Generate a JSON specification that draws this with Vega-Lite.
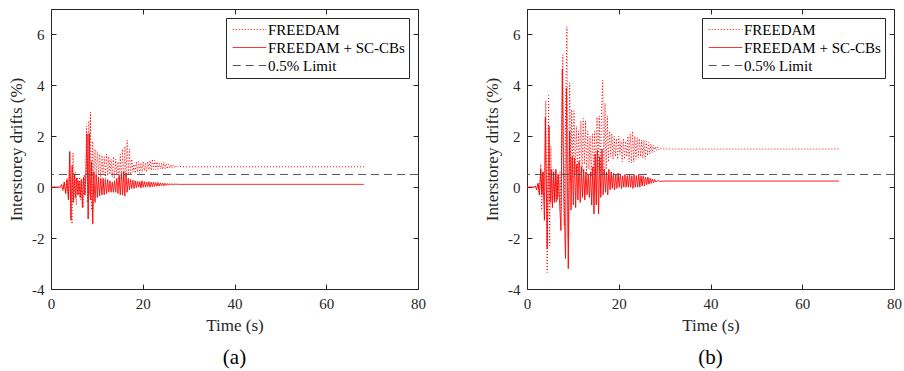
{
 "$schema": "https://vega.github.io/schema/vega-lite/v6.json",
 "padding": {"left": 7, "top": 8, "right": 0, "bottom": 5},
 "spacing": 57,
 "config": {
  "font": "Liberation Serif",
  "view": {"stroke": "#262626", "strokeWidth": 1},
  "axis": {"grid": false, "domain": false, "tickSize": -5, "labelPadding": 12, "tickColor": "#262626", "labelColor": "#262626", "labelFont": "Liberation Serif", "labelFontSize": 15, "titleFont": "Liberation Serif", "titleFontSize": 17, "titleFontWeight": "normal", "titleColor": "#262626", "labelFlush": false},
  "style": {"guide-label": {"font": "Liberation Serif"}, "guide-title": {"font": "Liberation Serif"}, "group-title": {"font": "Liberation Serif"}},
  "title": {"font": "Liberation Serif", "fontWeight": "normal", "fontSize": 21, "color": "#000000"}
 },
 "datasets": {
  "aF": [{"t":0,"v":0},{"t":2,"v":0},{"t":2.3,"v":0.1},{"t":2.6,"v":-0.15},{"t":2.9,"v":0.2},{"t":3.2,"v":-0.2},{"t":3.5,"v":0.35},{"t":3.8,"v":-0.4},{"t":4.1,"v":0.6},{"t":4.4,"v":-1.0},{"t":4.6,"v":-1.45},{"t":4.8,"v":1.35},{"t":5.0,"v":-0.5},{"t":5.25,"v":0.6},{"t":5.5,"v":-0.7},{"t":5.75,"v":0.4},{"t":6.0,"v":-0.3},{"t":6.25,"v":0.4},{"t":6.5,"v":-0.5},{"t":6.75,"v":0.3},{"t":7.0,"v":-0.8},{"t":7.25,"v":0.5},{"t":7.5,"v":-0.3},{"t":7.75,"v":2.4},{"t":8.0,"v":-0.6},{"t":8.25,"v":2.6},{"t":8.45,"v":-0.3},{"t":8.6,"v":2.95},{"t":8.85,"v":-0.9},{"t":9.1,"v":1.8},{"t":9.35,"v":0.3},{"t":9.6,"v":1.5},{"t":9.85,"v":0.4},{"t":10.1,"v":1.4},{"t":10.35,"v":0.5},{"t":10.6,"v":1.3},{"t":10.85,"v":0.4},{"t":11.1,"v":1.25},{"t":11.35,"v":0.5},{"t":11.6,"v":1.2},{"t":11.85,"v":0.35},{"t":12.1,"v":1.3},{"t":12.35,"v":0.45},{"t":12.6,"v":1.2},{"t":12.85,"v":0.5},{"t":13.1,"v":1.1},{"t":13.35,"v":0.4},{"t":13.6,"v":1.2},{"t":13.85,"v":0.35},{"t":14.1,"v":1.1},{"t":14.35,"v":0.5},{"t":14.6,"v":1.0},{"t":14.85,"v":0.3},{"t":15.1,"v":1.3},{"t":15.35,"v":0.3},{"t":15.6,"v":1.5},{"t":15.85,"v":0.2},{"t":16.1,"v":1.6},{"t":16.35,"v":0.4},{"t":16.6,"v":1.85},{"t":16.85,"v":0.5},{"t":17.1,"v":1.5},{"t":17.35,"v":0.5},{"t":17.6,"v":1.1},{"t":17.85,"v":0.6},{"t":18.1,"v":0.9},{"t":18.35,"v":0.55},{"t":18.6,"v":1.0},{"t":18.85,"v":0.6},{"t":19.1,"v":1.0},{"t":19.35,"v":0.55},{"t":19.6,"v":0.95},{"t":19.85,"v":0.6},{"t":20.1,"v":1.0},{"t":20.35,"v":0.65},{"t":20.6,"v":0.95},{"t":20.85,"v":0.6},{"t":21.1,"v":1.0},{"t":21.35,"v":0.7},{"t":21.6,"v":1.05},{"t":21.85,"v":0.65},{"t":22.1,"v":1.1},{"t":22.35,"v":0.7},{"t":22.6,"v":1.05},{"t":22.85,"v":0.7},{"t":23.1,"v":1.0},{"t":23.35,"v":0.7},{"t":23.6,"v":0.95},{"t":23.85,"v":0.72},{"t":24.1,"v":0.95},{"t":24.35,"v":0.7},{"t":24.6,"v":0.98},{"t":24.85,"v":0.72},{"t":25.1,"v":0.92},{"t":25.35,"v":0.72},{"t":25.6,"v":0.9},{"t":25.85,"v":0.74},{"t":26.1,"v":0.88},{"t":26.35,"v":0.75},{"t":26.6,"v":0.86},{"t":26.85,"v":0.77},{"t":27.1,"v":0.85},{"t":27.35,"v":0.78},{"t":27.6,"v":0.83},{"t":27.85,"v":0.79},{"t":28.1,"v":0.82},{"t":28.5,"v":0.8},{"t":29.5,"v":0.8},{"t":68.2,"v":0.8}],
  "aS": [{"t":0,"v":0},{"t":2,"v":0},{"t":2.3,"v":0.1},{"t":2.6,"v":-0.1},{"t":2.9,"v":0.2},{"t":3.2,"v":-0.25},{"t":3.5,"v":0.3},{"t":3.8,"v":-0.5},{"t":4.1,"v":1.4},{"t":4.35,"v":-1.3},{"t":4.6,"v":0.85},{"t":4.85,"v":-0.6},{"t":5.1,"v":0.5},{"t":5.35,"v":-0.4},{"t":5.6,"v":0.35},{"t":5.85,"v":-0.3},{"t":6.1,"v":0.25},{"t":6.35,"v":-0.4},{"t":6.6,"v":0.3},{"t":6.85,"v":-0.8},{"t":7.1,"v":0.4},{"t":7.35,"v":-0.3},{"t":7.6,"v":0.5},{"t":7.85,"v":2.1},{"t":8.1,"v":-1.25},{"t":8.35,"v":2.1},{"t":8.6,"v":-0.5},{"t":8.85,"v":1.0},{"t":9.1,"v":-1.45},{"t":9.35,"v":0.6},{"t":9.6,"v":-0.6},{"t":9.85,"v":0.5},{"t":10.1,"v":-0.4},{"t":10.35,"v":0.4},{"t":10.6,"v":-0.35},{"t":10.85,"v":0.35},{"t":11.1,"v":-0.3},{"t":11.35,"v":0.35},{"t":11.6,"v":-0.3},{"t":11.85,"v":0.3},{"t":12.1,"v":-0.25},{"t":12.35,"v":0.3},{"t":12.6,"v":-0.2},{"t":12.85,"v":0.25},{"t":13.1,"v":-0.2},{"t":13.35,"v":0.2},{"t":13.6,"v":-0.2},{"t":13.85,"v":0.25},{"t":14.1,"v":-0.2},{"t":14.35,"v":0.35},{"t":14.6,"v":-0.25},{"t":14.85,"v":0.45},{"t":15.1,"v":-0.3},{"t":15.35,"v":0.55},{"t":15.6,"v":-0.3},{"t":15.85,"v":0.6},{"t":16.1,"v":-0.35},{"t":16.35,"v":0.55},{"t":16.6,"v":-0.2},{"t":16.85,"v":0.35},{"t":17.1,"v":-0.1},{"t":17.35,"v":0.3},{"t":17.6,"v":-0.05},{"t":17.85,"v":0.28},{"t":18.1,"v":-0.05},{"t":18.35,"v":0.25},{"t":18.6,"v":-0.02},{"t":18.85,"v":0.24},{"t":19.1,"v":0.0},{"t":19.35,"v":0.22},{"t":19.6,"v":-0.03},{"t":19.85,"v":0.25},{"t":20.1,"v":0.0},{"t":20.35,"v":0.22},{"t":20.6,"v":0.0},{"t":20.85,"v":0.2},{"t":21.1,"v":0.02},{"t":21.35,"v":0.22},{"t":21.6,"v":0.0},{"t":21.85,"v":0.2},{"t":22.1,"v":0.02},{"t":22.35,"v":0.2},{"t":22.6,"v":0.03},{"t":22.85,"v":0.18},{"t":23.1,"v":0.04},{"t":23.35,"v":0.18},{"t":23.6,"v":0.05},{"t":23.85,"v":0.17},{"t":24.1,"v":0.06},{"t":24.35,"v":0.16},{"t":24.6,"v":0.06},{"t":24.85,"v":0.15},{"t":25.1,"v":0.07},{"t":25.35,"v":0.14},{"t":25.6,"v":0.08},{"t":25.85,"v":0.14},{"t":26.1,"v":0.09},{"t":26.35,"v":0.13},{"t":26.6,"v":0.1},{"t":27,"v":0.12},{"t":28,"v":0.11},{"t":68.2,"v":0.11}],
  "bF": [{"t":0,"v":0},{"t":1.5,"v":0},{"t":1.8,"v":0.05},{"t":2.1,"v":-0.1},{"t":2.4,"v":0.15},{"t":2.7,"v":-0.3},{"t":3.0,"v":0.9},{"t":3.2,"v":-0.9},{"t":3.5,"v":0.6},{"t":3.75,"v":-0.5},{"t":4.1,"v":3.4},{"t":4.4,"v":-3.35},{"t":4.7,"v":3.6},{"t":4.95,"v":-2.3},{"t":5.2,"v":1.6},{"t":5.45,"v":-0.6},{"t":5.7,"v":0.7},{"t":5.95,"v":-0.5},{"t":6.2,"v":0.6},{"t":6.45,"v":-0.6},{"t":6.7,"v":0.5},{"t":6.95,"v":-0.4},{"t":7.2,"v":0.6},{"t":7.45,"v":-0.8},{"t":7.8,"v":5.2},{"t":8.1,"v":-1.5},{"t":8.35,"v":2.2},{"t":8.7,"v":6.3},{"t":9.0,"v":-2.0},{"t":9.3,"v":4.1},{"t":9.55,"v":0.2},{"t":9.75,"v":3.05},{"t":10.0,"v":0.4},{"t":10.25,"v":3.0},{"t":10.5,"v":0.5},{"t":10.75,"v":2.4},{"t":11.0,"v":0.6},{"t":11.25,"v":2.2},{"t":11.5,"v":0.8},{"t":11.75,"v":2.6},{"t":12.0,"v":0.6},{"t":12.25,"v":2.7},{"t":12.5,"v":0.9},{"t":12.75,"v":2.6},{"t":13.0,"v":0.5},{"t":13.25,"v":2.2},{"t":13.5,"v":0.7},{"t":13.75,"v":2.0},{"t":14.0,"v":0.4},{"t":14.25,"v":2.1},{"t":14.5,"v":0.6},{"t":14.75,"v":2.2},{"t":15.0,"v":0.5},{"t":15.25,"v":2.75},{"t":15.5,"v":0.7},{"t":15.75,"v":2.8},{"t":16.0,"v":0.6},{"t":16.25,"v":3.0},{"t":16.5,"v":4.2},{"t":16.75,"v":0.5},{"t":17.0,"v":3.3},{"t":17.25,"v":0.7},{"t":17.5,"v":2.8},{"t":17.75,"v":1.0},{"t":18.0,"v":2.2},{"t":18.25,"v":1.2},{"t":18.5,"v":2.1},{"t":18.75,"v":1.1},{"t":19.0,"v":2.0},{"t":19.25,"v":1.2},{"t":19.5,"v":1.9},{"t":19.75,"v":1.1},{"t":20.0,"v":2.0},{"t":20.25,"v":1.3},{"t":20.5,"v":1.8},{"t":20.75,"v":1.0},{"t":21.0,"v":1.9},{"t":21.25,"v":1.1},{"t":21.5,"v":1.8},{"t":21.75,"v":1.2},{"t":22.0,"v":2.0},{"t":22.25,"v":1.0},{"t":22.5,"v":2.1},{"t":22.75,"v":0.95},{"t":23.0,"v":2.2},{"t":23.25,"v":1.0},{"t":23.5,"v":2.0},{"t":23.75,"v":1.1},{"t":24.0,"v":1.95},{"t":24.25,"v":1.15},{"t":24.5,"v":1.9},{"t":24.75,"v":1.2},{"t":25.0,"v":1.85},{"t":25.25,"v":1.15},{"t":25.5,"v":1.85},{"t":25.75,"v":1.1},{"t":26.0,"v":1.8},{"t":26.25,"v":1.25},{"t":26.5,"v":1.75},{"t":26.75,"v":1.3},{"t":27.0,"v":1.7},{"t":27.25,"v":1.35},{"t":27.5,"v":1.65},{"t":27.75,"v":1.4},{"t":28.0,"v":1.6},{"t":28.25,"v":1.45},{"t":28.5,"v":1.57},{"t":28.75,"v":1.47},{"t":29.0,"v":1.53},{"t":29.5,"v":1.5},{"t":30.5,"v":1.5},{"t":68,"v":1.5}],
  "bS": [{"t":0,"v":0},{"t":1.5,"v":0},{"t":1.8,"v":0.05},{"t":2.1,"v":-0.1},{"t":2.4,"v":0.15},{"t":2.7,"v":-0.3},{"t":3.0,"v":0.7},{"t":3.25,"v":-0.3},{"t":3.5,"v":0.6},{"t":3.8,"v":-1.3},{"t":4.0,"v":2.75},{"t":4.4,"v":-2.4},{"t":4.8,"v":2.4},{"t":5.05,"v":-0.6},{"t":5.3,"v":0.7},{"t":5.55,"v":-0.8},{"t":5.8,"v":0.6},{"t":6.05,"v":-0.6},{"t":6.3,"v":0.7},{"t":6.55,"v":-0.5},{"t":6.8,"v":0.5},{"t":7.05,"v":-0.4},{"t":7.4,"v":-1.7},{"t":7.7,"v":4.65},{"t":8.05,"v":-0.5},{"t":8.4,"v":-2.8},{"t":8.6,"v":3.9},{"t":9.0,"v":-3.2},{"t":9.3,"v":2.2},{"t":9.6,"v":-0.9},{"t":9.85,"v":1.2},{"t":10.1,"v":-0.7},{"t":10.35,"v":1.15},{"t":10.6,"v":-0.8},{"t":10.85,"v":0.9},{"t":11.1,"v":-0.5},{"t":11.35,"v":1.0},{"t":11.6,"v":-0.6},{"t":11.85,"v":0.8},{"t":12.1,"v":-0.4},{"t":12.35,"v":0.7},{"t":12.6,"v":-0.5},{"t":12.85,"v":0.6},{"t":13.1,"v":-0.3},{"t":13.35,"v":0.5},{"t":13.6,"v":-0.4},{"t":13.85,"v":0.6},{"t":14.1,"v":-0.7},{"t":14.35,"v":0.8},{"t":14.6,"v":-1.05},{"t":14.85,"v":1.3},{"t":15.1,"v":-0.7},{"t":15.35,"v":1.45},{"t":15.6,"v":-1.05},{"t":15.85,"v":1.2},{"t":16.1,"v":-0.4},{"t":16.35,"v":1.5},{"t":16.6,"v":-0.3},{"t":16.85,"v":0.7},{"t":17.1,"v":-0.2},{"t":17.35,"v":0.6},{"t":17.6,"v":-0.3},{"t":17.85,"v":0.7},{"t":18.1,"v":-0.1},{"t":18.35,"v":0.6},{"t":18.6,"v":-0.05},{"t":18.85,"v":0.55},{"t":19.1,"v":-0.1},{"t":19.35,"v":0.5},{"t":19.6,"v":-0.05},{"t":19.85,"v":0.55},{"t":20.1,"v":0.0},{"t":20.35,"v":0.5},{"t":20.6,"v":-0.05},{"t":20.85,"v":0.45},{"t":21.1,"v":0.0},{"t":21.35,"v":0.5},{"t":21.6,"v":0.0},{"t":21.85,"v":0.45},{"t":22.1,"v":0.0},{"t":22.35,"v":0.5},{"t":22.6,"v":0.0},{"t":22.85,"v":0.45},{"t":23.1,"v":-0.05},{"t":23.35,"v":0.5},{"t":23.6,"v":0.0},{"t":23.85,"v":0.45},{"t":24.1,"v":0.0},{"t":24.35,"v":0.5},{"t":24.6,"v":0.0},{"t":24.85,"v":0.45},{"t":25.1,"v":0.05},{"t":25.35,"v":0.45},{"t":25.6,"v":0.05},{"t":25.85,"v":0.4},{"t":26.1,"v":0.1},{"t":26.35,"v":0.4},{"t":26.6,"v":0.12},{"t":26.85,"v":0.35},{"t":27.1,"v":0.15},{"t":27.35,"v":0.32},{"t":27.6,"v":0.18},{"t":27.85,"v":0.3},{"t":28.1,"v":0.2},{"t":28.5,"v":0.26},{"t":29,"v":0.23},{"t":30,"v":0.24},{"t":68,"v":0.24}],
  "one": [{"limit": 0.5}]
 },
 "resolve": {"scale": {"color": "independent", "strokeDash": "independent"}, "legend": {"color": "independent", "strokeDash": "independent"}},
 "hconcat": [
  {
   "width": 367, "height": 280,
   "title": {"text": "(a)", "orient": "bottom", "offset": 14, "font": "Liberation Serif", "fontSize": 21, "fontWeight": "normal"},
   "resolve": {"axis": {"x": "independent", "y": "independent"}},
   "layer": [
    {"data": {"name": "aF"}, "mark": {"type": "line", "strokeWidth": 1, "clip": true},
     "encoding": {
      "x": {"field": "t", "type": "quantitative", "scale": {"domain": [0, 80], "nice": false}, "axis": {"orient": "bottom", "values": [0, 20, 40, 60, 80], "title": "Time (s)", "titlePadding": 6, "labelFont": "Liberation Serif", "titleFont": "Liberation Serif", "labelFontSize": 15, "titleFontSize": 17}},
      "y": {"field": "v", "type": "quantitative", "scale": {"domain": [-4, 7], "nice": false}, "axis": {"orient": "left", "values": [-4, -2, 0, 2, 4, 6], "title": "Interstorey drifts (%)", "labelExpr": "'' + datum.value", "titlePadding": 6, "labelFont": "Liberation Serif", "titleFont": "Liberation Serif", "labelFontSize": 15, "titleFontSize": 17}},
      "color": {"datum": "FREEDAM", "type": "nominal", "scale": {"domain": ["FREEDAM", "FREEDAM + SC-CBs", "0.5% Limit"], "range": ["#ff0000", "#ff0000", "#555555"]}, "legend": {"title": null, "orient": "top-right", "offset": 9, "fillColor": "white", "strokeColor": "#262626", "padding": 4, "labelFont": "Liberation Serif", "labelFontSize": 15, "labelColor": "#000000", "symbolType": "M-1.2,0H7.2", "symbolSize": 64, "symbolStrokeWidth": 1, "labelOffset": 23, "rowPadding": 2}},
      "strokeDash": {"datum": "FREEDAM", "type": "nominal", "scale": {"domain": ["FREEDAM", "FREEDAM + SC-CBs", "0.5% Limit"], "range": [[1, 2], [1, 0], [8, 5]]}, "legend": {"title": null}}
     }},
    {"data": {"name": "aS"}, "mark": {"type": "line", "strokeWidth": 1, "clip": true},
     "encoding": {
      "x": {"field": "t", "type": "quantitative", "axis": {"orient": "top", "values": [0, 20, 40, 60, 80], "labels": false, "title": null}},
      "y": {"field": "v", "type": "quantitative", "axis": {"orient": "right", "values": [-4, -2, 0, 2, 4, 6], "labels": false, "title": null}},
      "color": {"datum": "FREEDAM + SC-CBs", "type": "nominal"},
      "strokeDash": {"datum": "FREEDAM + SC-CBs", "type": "nominal"}
     }},
    {"data": {"name": "one"}, "mark": {"type": "rule", "strokeWidth": 1},
     "encoding": {
      "y": {"field": "limit", "type": "quantitative", "axis": null},
      "color": {"datum": "0.5% Limit", "type": "nominal"},
      "strokeDash": {"datum": "0.5% Limit", "type": "nominal"}
     }}
   ]
  },
  {
   "width": 367, "height": 280,
   "title": {"text": "(b)", "orient": "bottom", "offset": 14, "font": "Liberation Serif", "fontSize": 21, "fontWeight": "normal"},
   "resolve": {"axis": {"x": "independent", "y": "independent"}},
   "layer": [
    {"data": {"name": "bF"}, "mark": {"type": "line", "strokeWidth": 1, "clip": true},
     "encoding": {
      "x": {"field": "t", "type": "quantitative", "scale": {"domain": [0, 80], "nice": false}, "axis": {"orient": "bottom", "values": [0, 20, 40, 60, 80], "title": "Time (s)", "titlePadding": 6, "labelFont": "Liberation Serif", "titleFont": "Liberation Serif", "labelFontSize": 15, "titleFontSize": 17}},
      "y": {"field": "v", "type": "quantitative", "scale": {"domain": [-4, 7], "nice": false}, "axis": {"orient": "left", "values": [-4, -2, 0, 2, 4, 6], "title": "Interstorey drifts (%)", "labelExpr": "'' + datum.value", "titlePadding": 6, "labelFont": "Liberation Serif", "titleFont": "Liberation Serif", "labelFontSize": 15, "titleFontSize": 17}},
      "color": {"datum": "FREEDAM", "type": "nominal", "scale": {"domain": ["FREEDAM", "FREEDAM + SC-CBs", "0.5% Limit"], "range": ["#ff0000", "#ff0000", "#555555"]}, "legend": {"title": null, "orient": "top-right", "offset": 9, "fillColor": "white", "strokeColor": "#262626", "padding": 4, "labelFont": "Liberation Serif", "labelFontSize": 15, "labelColor": "#000000", "symbolType": "M-1.2,0H7.2", "symbolSize": 64, "symbolStrokeWidth": 1, "labelOffset": 23, "rowPadding": 2}},
      "strokeDash": {"datum": "FREEDAM", "type": "nominal", "scale": {"domain": ["FREEDAM", "FREEDAM + SC-CBs", "0.5% Limit"], "range": [[1, 2], [1, 0], [8, 5]]}, "legend": {"title": null}}
     }},
    {"data": {"name": "bS"}, "mark": {"type": "line", "strokeWidth": 1, "clip": true},
     "encoding": {
      "x": {"field": "t", "type": "quantitative", "axis": {"orient": "top", "values": [0, 20, 40, 60, 80], "labels": false, "title": null}},
      "y": {"field": "v", "type": "quantitative", "axis": {"orient": "right", "values": [-4, -2, 0, 2, 4, 6], "labels": false, "title": null}},
      "color": {"datum": "FREEDAM + SC-CBs", "type": "nominal"},
      "strokeDash": {"datum": "FREEDAM + SC-CBs", "type": "nominal"}
     }},
    {"data": {"name": "one"}, "mark": {"type": "rule", "strokeWidth": 1},
     "encoding": {
      "y": {"field": "limit", "type": "quantitative", "axis": null},
      "color": {"datum": "0.5% Limit", "type": "nominal"},
      "strokeDash": {"datum": "0.5% Limit", "type": "nominal"}
     }}
   ]
  }
 ]
}
